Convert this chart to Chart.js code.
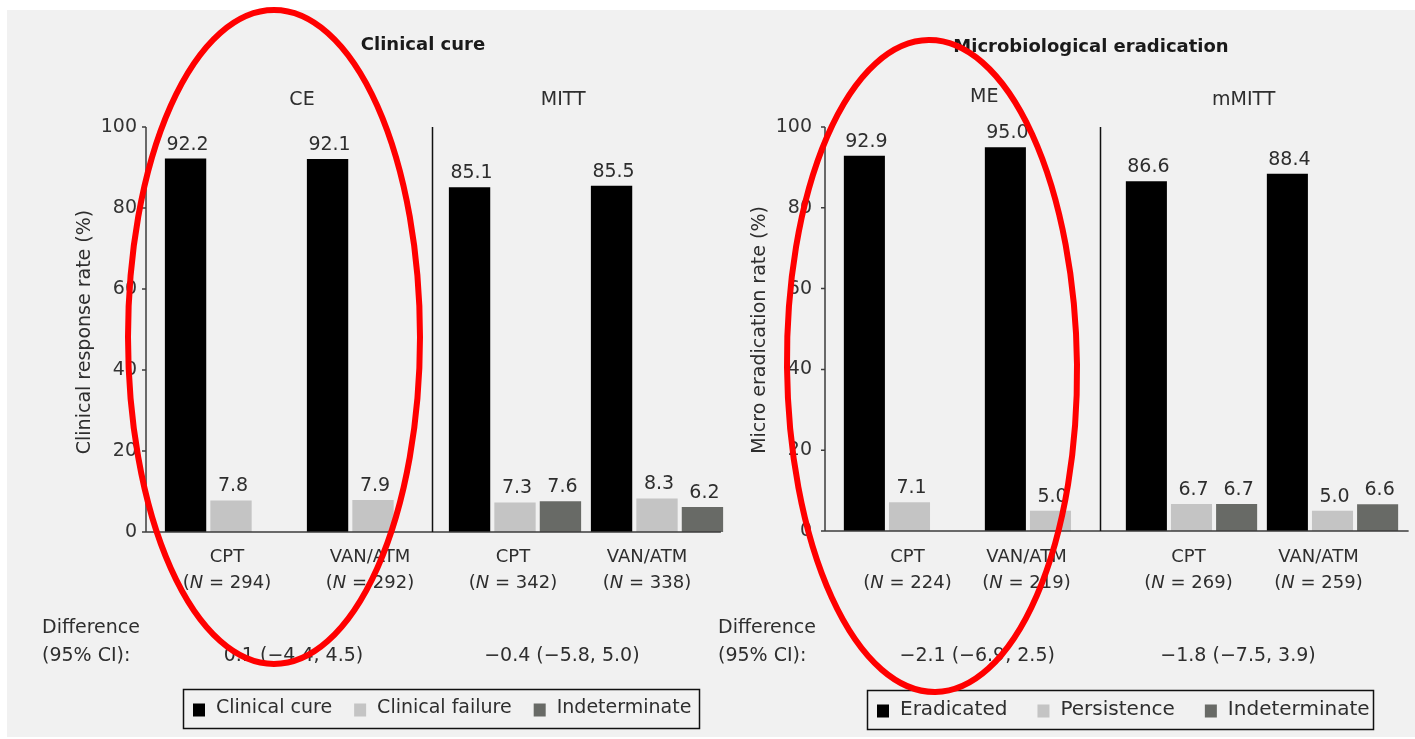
<!DOCTYPE html>
<html>
<head>
<meta charset="utf-8">
<script src="https://cdn.jsdelivr.net/npm/chart.js@4.4.1/dist/chart.umd.min.js"></script>
<style>
  html, body { margin: 0; padding: 0; background: #ffffff; }
  body { width: 1415px; height: 739px; position: relative; overflow: hidden; }
  #panel { position: absolute; left: 7px; top: 10px; width: 1408px; height: 727px; background: #f1f1f1; }
  #cureWrap { position: absolute; left: 0; top: 0; width: 740px; height: 739px; }
  #eradWrap { position: absolute; left: 700px; top: 0; width: 715px; height: 739px; }
  canvas { display: block; }
</style>
</head>
<body>
<div id="panel"></div>
<div id="cureWrap"><canvas id="cure" width="740" height="739"></canvas></div>
<div id="eradWrap"><canvas id="erad" width="715" height="739"></canvas></div>
<script>
// ---- data ----
const treatments = ['CPT', 'VAN/ATM', 'CPT', 'VAN/ATM'];
const yTicks = [0, 20, 40, 60, 80, 100];

// Clinical cure (CE and MITT populations)
const cureSubsets = ['CE', 'MITT'];
const cureN = [294, 292, 342, 338];
const clinicalCure = [92.2, 92.1, 85.1, 85.5];
const clinicalFailure = [7.8, 7.9, 7.3, 8.3];
const clinicalIndeterminate = [null, null, 7.6, 6.2];
const cureDifference = ['0.1 (\u22124.4, 4.5)', '\u22120.4 (\u22125.8, 5.0)'];

// Microbiological eradication (ME and mMITT populations)
const eradSubsets = ['ME', 'mMITT'];
const eradN = [224, 219, 269, 259];
const eradicated = [92.9, 95.0, 86.6, 88.4];
const persistence = [7.1, 5.0, 6.7, 5.0];
const eradIndeterminate = [null, null, 6.7, 6.6];
const eradDifference = ['\u22122.1 (\u22126.9, 2.5)', '\u22121.8 (\u22127.5, 3.9)'];

// ---- styling ----
const FONT = '"DejaVu Sans", "Liberation Sans", sans-serif';
const INK = '#2e2e2e';
const C_BLACK = '#000000';
const C_LIGHT = '#c4c4c4';
const C_DARK = '#686a66';

// Draws axes, divider, value labels, category labels, headings,
// the difference rows, the boxed legend and the highlight ellipse.
const panelDecor = {
  id: 'panelDecor',
  afterDatasetsDraw(chart, args, o) {
    const { ctx, chartArea: ca } = chart;
    const x = chart.scales.x, y = chart.scales.y;
    const y0 = y.getPixelForValue(0), y100 = y.getPixelForValue(100);
    const ax = ca.left - o.axisGap;
    ctx.save();

    // y axis + ticks + baseline
    ctx.strokeStyle = '#3c3c3c';
    ctx.lineWidth = 1.5;
    ctx.beginPath();
    ctx.moveTo(ax, y100);
    ctx.lineTo(ax, y0);
    ctx.lineTo(x.getPixelForValue(o.axisEnd), y0);
    yTicks.forEach(v => {
      const p = y.getPixelForValue(v);
      ctx.moveTo(ax - 4, p);
      ctx.lineTo(ax, p);
    });
    ctx.stroke();

    // divider between the two populations
    ctx.strokeStyle = '#111';
    ctx.beginPath();
    const dx = Math.round(x.getPixelForValue(o.divider)) + 0.5;
    ctx.moveTo(dx, y100);
    ctx.lineTo(dx, y0);
    ctx.stroke();

    // value labels above bars
    ctx.fillStyle = INK;
    ctx.font = '19px ' + FONT;
    ctx.textAlign = 'center';
    ctx.textBaseline = 'alphabetic';
    chart.data.datasets.forEach((ds, di) => {
      const meta = chart.getDatasetMeta(di);
      meta.data.forEach((bar, i) => {
        const v = ds.data[i];
        if (v === null || v === undefined) return;
        ctx.fillText(v.toFixed(1), bar.x + 2, bar.y - 9);
      });
    });

    // category labels: treatment and (N = n)
    ctx.textBaseline = 'middle';
    chart.data.labels.forEach((lab, i) => {
      const cx = x.getPixelForValue(i) + o.catShift[i];
      ctx.font = '18px ' + FONT;
      ctx.textAlign = 'center';
      ctx.fillText(lab, cx, 557);
      const a = '(', b = 'N', c = ' = ' + o.ns[i] + ')';
      ctx.font = '18px ' + FONT;
      const wa = ctx.measureText(a).width, wc = ctx.measureText(c).width;
      ctx.font = 'italic 18px ' + FONT;
      const wb = ctx.measureText(b).width;
      let sx = cx - (wa + wb + wc) / 2;
      ctx.textAlign = 'left';
      ctx.font = '18px ' + FONT;
      ctx.fillText(a, sx, 583);
      ctx.font = 'italic 18px ' + FONT;
      ctx.fillText(b, sx + wa, 583);
      ctx.font = '18px ' + FONT;
      ctx.fillText(c, sx + wa + wb, 583);
    });

    // panel title
    ctx.textAlign = 'center';
    ctx.font = 'bold 18px ' + FONT;
    ctx.fillStyle = '#1a1a1a';
    ctx.fillText(o.title, o.titleX, o.titleY);

    // population headings
    ctx.font = '19px ' + FONT;
    ctx.fillStyle = INK;
    o.subsets.forEach((s, i) => {
      ctx.fillText(s, x.getPixelForValue(o.subsetPos[i]), o.subsetY[i]);
    });

    // y axis title
    ctx.save();
    ctx.translate(o.yTitleX, o.yTitleY);
    ctx.rotate(-Math.PI / 2);
    ctx.font = '19px ' + FONT;
    ctx.fillText(o.yTitle, 0, 0);
    ctx.restore();

    // difference rows
    ctx.textAlign = 'left';
    ctx.font = '19px ' + FONT;
    ctx.fillText('Difference', o.diffLabelX, 628);
    ctx.fillText('(95% CI):', o.diffLabelX, 656);
    ctx.textAlign = 'center';
    o.difference.forEach((d, i) => {
      ctx.fillText(d, x.getPixelForValue(o.diffPos[i]), 656);
    });

    // boxed legend
    const L = o.legend;
    ctx.strokeStyle = '#111';
    ctx.lineWidth = 1.5;
    ctx.strokeRect(L.x + 0.5, L.y + 0.5, L.w, L.h);
    let lx = L.x + 10;
    const ly = L.y + L.h / 2;
    ctx.font = L.font + ' ' + FONT;
    ctx.textAlign = 'left';
    chart.data.datasets.forEach(ds => {
      ctx.fillStyle = ds.backgroundColor;
      ctx.fillRect(lx, ly - 5, 12, 13);
      ctx.fillStyle = INK;
      ctx.fillText(ds.label, lx + 23, ly);
      lx += 23 + ctx.measureText(ds.label).width + L.gap;
    });

    ctx.restore();
  },
  afterDraw(chart, args, o) {
    const { ctx } = chart;
    const e = o.ellipse;
    ctx.save();
    ctx.strokeStyle = '#ff0000';
    ctx.lineWidth = 6;
    ctx.beginPath();
    ctx.ellipse(e.cx, e.cy, e.rx, e.ry, e.rot, 0, Math.PI * 2);
    ctx.stroke();
    ctx.restore();
  }
};

function makeChart(id, cfg) {
  return new Chart(document.getElementById(id), {
    type: 'bar',
    data: {
      labels: treatments,
      datasets: cfg.series.map(s => ({
        label: s.label,
        data: s.data,
        backgroundColor: s.color,
        borderWidth: 0,
        barPercentage: 0.91,
        categoryPercentage: 0.96
      }))
    },
    options: {
      responsive: false,
      animation: false,
      devicePixelRatio: 1,
      layout: { padding: { top: 127, bottom: cfg.padBottom, left: 0, right: 12 } },
      scales: {
        x: { display: false },
        y: {
          min: 0, max: 100,
          afterBuildTicks: s => { s.ticks = yTicks.map(v => ({ value: v })); },
          afterFit: s => { s.width = cfg.yWidth; },
          grid: { display: false, drawTicks: false },
          border: { display: false },
          ticks: { padding: cfg.tickPad, color: '#333', font: { family: FONT, size: 19 } }
        }
      },
      plugins: {
        legend: { display: false },
        tooltip: { enabled: false },
        panelDecor: cfg.decor
      }
    },
    plugins: [panelDecor]
  });
}

makeChart('cure', {
  yWidth: 160, tickPad: 23, padBottom: 207,
  series: [
    { label: 'Clinical cure', data: clinicalCure, color: C_BLACK },
    { label: 'Clinical failure', data: clinicalFailure, color: C_LIGHT },
    { label: 'Indeterminate', data: clinicalIndeterminate, color: C_DARK }
  ],
  decor: {
    axisGap: 14, axisEnd: 3.45, divider: 1.415,
    ns: cureN, catShift: [-4, -3, -2, -10],
    title: 'Clinical cure', titleX: 423, titleY: 45,
    subsets: cureSubsets, subsetPos: [0.5, 2.34], subsetY: [100, 100],
    yTitle: 'Clinical response rate (%)', yTitleX: 85, yTitleY: 332,
    diffLabelX: 42, difference: cureDifference, diffPos: [0.44, 2.33],
    legend: { x: 183, y: 689, w: 516, h: 39, gap: 22, font: '19px' },
    ellipse: { cx: 274, cy: 337, rx: 146, ry: 327, rot: 0 }
  }
});

makeChart('erad', {
  yWidth: 139, tickPad: 27, padBottom: 208,
  series: [
    { label: 'Eradicated', data: eradicated, color: C_BLACK },
    { label: 'Persistence', data: persistence, color: C_LIGHT },
    { label: 'Indeterminate', data: eradIndeterminate, color: C_DARK }
  ],
  decor: {
    axisGap: 14, axisEnd: 3.54, divider: 1.354,
    ns: eradN, catShift: [-2, -24, -3, -14],
    title: 'Microbiological eradication', titleX: 391, titleY: 47,
    subsets: eradSubsets, subsetPos: [0.53, 2.37], subsetY: [97, 100],
    yTitle: 'Micro eradication rate (%)', yTitleX: 60, yTitleY: 330,
    diffLabelX: 18, difference: eradDifference, diffPos: [0.48, 2.33],
    legend: { x: 167, y: 690, w: 506, h: 39, gap: 30, font: '20px' },
    ellipse: { cx: 232, cy: 366, rx: 145, ry: 326, rot: -0.01 }
  }
});
</script>
</body>
</html>
